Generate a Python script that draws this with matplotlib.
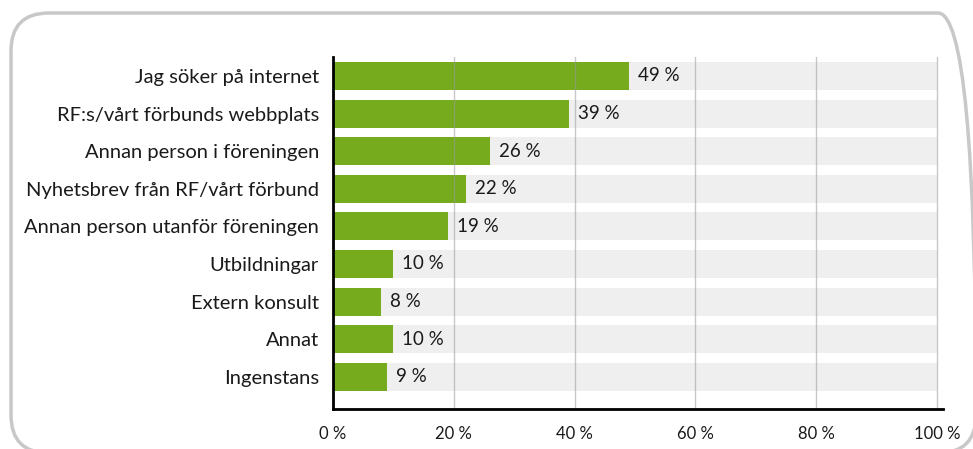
import matplotlib.pyplot as plt
from matplotlib.patches import FancyBboxPatch
from matplotlib.transforms import IdentityTransform

# Data
kategorier = ['Jag söker på internet', 'RF:s/vårt förbunds webbplats',
              'Annan person i föreningen', 'Nyhetsbrev från RF/vårt förbund',
              'Annan person utanför föreningen', 'Utbildningar',
              'Extern konsult', 'Annat', 'Ingenstans']
andelar = [49, 39, 26, 22, 19, 10, 8, 10, 9]
etiketter = ['49 %', '39 %', '26 %', '22 %', '19 %', '10 %', '8 %', '10 %', '9 %']
xticks = [0, 20, 40, 60, 80, 100]
xtick_labels = ['0 %', '20 %', '40 %', '60 %', '80 %', '100 %']

plt.rcParams['font.family'] = ['Lato', 'DejaVu Sans']

fig = plt.figure(figsize=(9.73, 4.49), dpi=100)

# rundad ram runt diagrammet (pixelkoordinater, origo nere till vanster)
ram = FancyBboxPatch((11, -4), 965, 440,
                     boxstyle='round,pad=0,rounding_size=38',
                     transform=IdentityTransform(), facecolor='none',
                     edgecolor='#c8c8c8', linewidth=2.5, clip_on=False)
fig.patches.append(ram)

ax = fig.add_axes([333 / 973, 1 - 409 / 449, 610 / 973, 352 / 449])

pos = list(range(len(kategorier)))
h = 0.745
ax.barh(pos, [100] * len(pos), height=h, color='#efefef', zorder=1)
ax.barh(pos, andelar, height=h, color='#76ab1e', zorder=2)

for x in xticks[1:]:
    ax.axvline(x, color='#9a9a9a', alpha=0.55, linewidth=1, zorder=3)

for p, v, t in zip(pos, andelar, etiketter):
    ax.text(v + 1.5, p, t, va='center', ha='left', fontsize=13.5, color='#1a1a1a', zorder=4)

ax.set_xlim(0, 101)
ax.set_ylim(8.86, -0.505)
ax.set_yticks(pos)
ax.set_yticklabels(kategorier, fontsize=14.5, color='#1a1a1a')
ax.set_xticks(xticks)
ax.set_xticklabels(xtick_labels, fontsize=12, color='#1a1a1a')
ax.tick_params(axis='both', length=0)
ax.tick_params(axis='y', pad=10)
ax.tick_params(axis='x', pad=12)

for s in ['top', 'right']:
    ax.spines[s].set_visible(False)
ax.spines['left'].set_linewidth(2)
ax.spines['bottom'].set_linewidth(2)
ax.spines['left'].set_zorder(5)
ax.spines['bottom'].set_zorder(5)

fig.savefig('out.png', dpi=100)
